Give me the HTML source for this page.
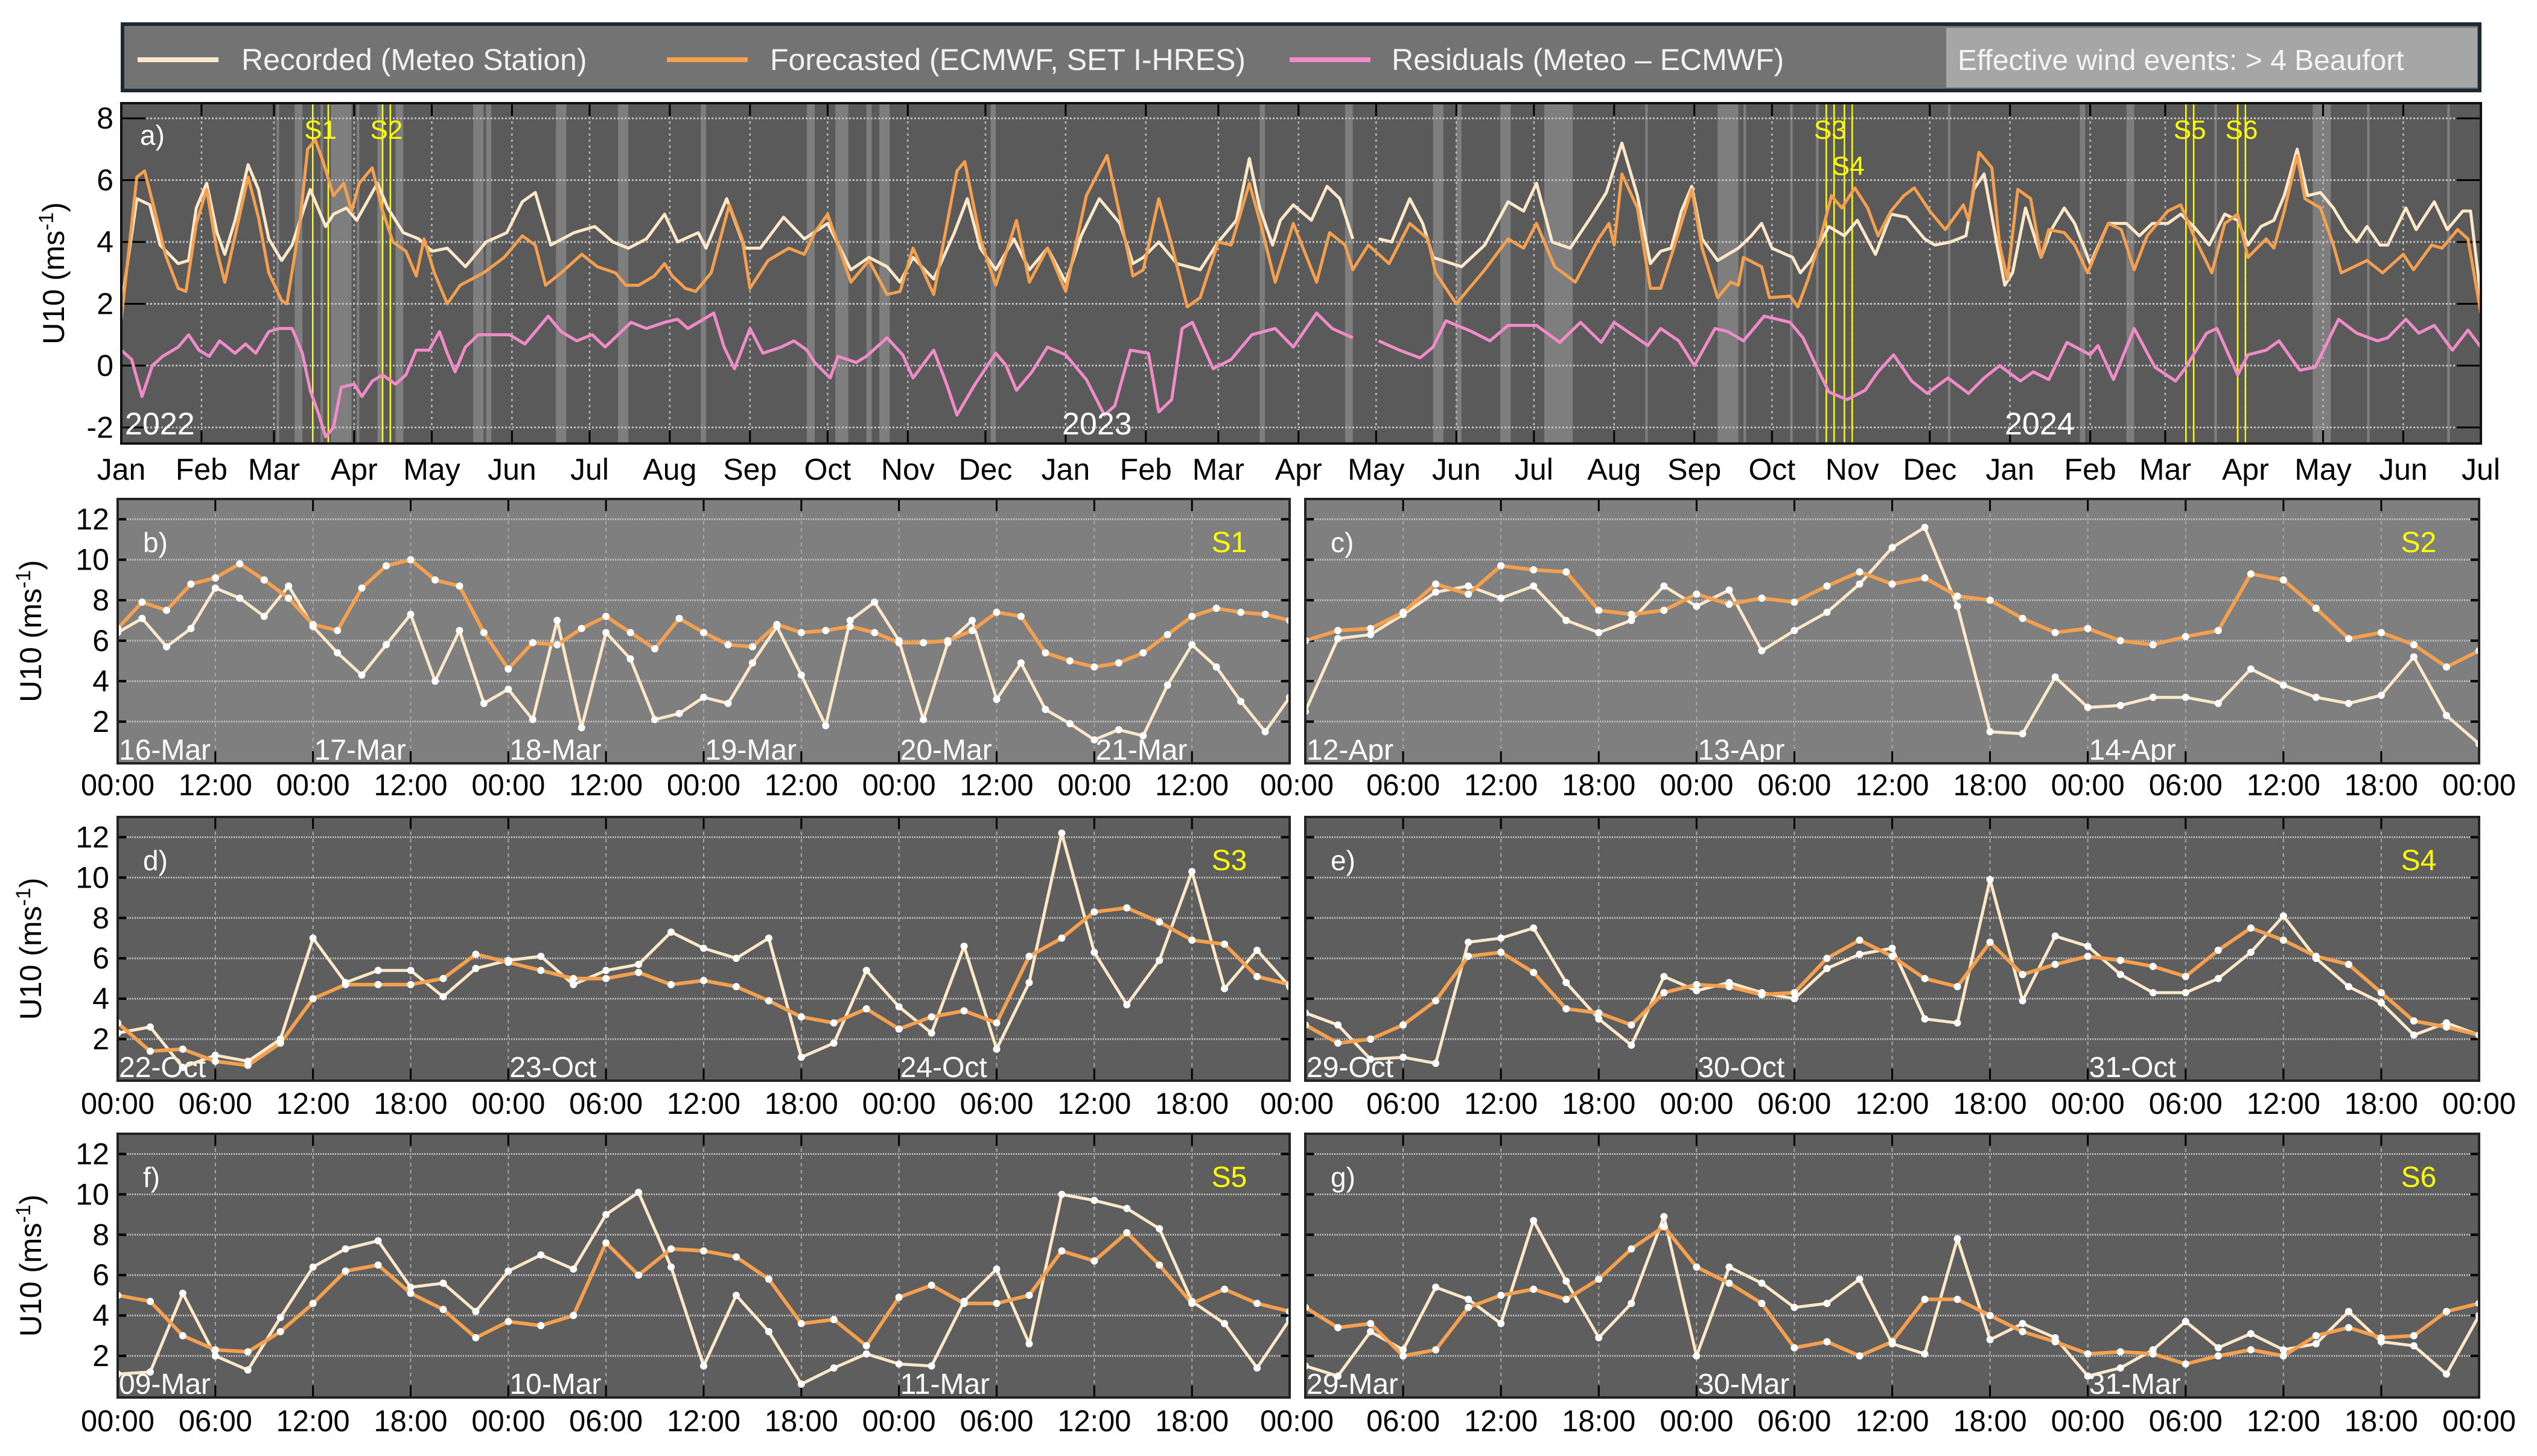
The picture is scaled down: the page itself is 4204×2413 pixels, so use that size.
<!DOCTYPE html>
<html><head><meta charset="utf-8"><title>U10 wind: recorded vs forecasted</title>
<style>
html,body{margin:0;padding:0;background:#fff;}
svg{display:block;font-family:"Liberation Sans Narrow","Liberation Sans",sans-serif;}
</style></head>
<body>
<svg id="chart" width="4204" height="2413" viewBox="0 0 4204 2413" xmlns="http://www.w3.org/2000/svg">
  <rect x="0" y="0" width="4204" height="2413" fill="#ffffff"/>
  <g>
    <rect x="203" y="40" width="3906" height="110" fill="#737373" stroke="#1c2833" stroke-width="6"/>
    <line x1="228" y1="99" x2="362" y2="99" stroke="#fde8c9" stroke-width="8"/>
    <text x="400" y="116" font-family="Liberation Sans, sans-serif" font-size="50" fill="#f2f2f2">Recorded (Meteo Station)</text>
    <line x1="1105" y1="99" x2="1239" y2="99" stroke="#f5a04f" stroke-width="8"/>
    <text x="1276" y="116" font-family="Liberation Sans, sans-serif" font-size="50" fill="#f2f2f2">Forecasted (ECMWF, SET I-HRES)</text>
    <line x1="2137" y1="99" x2="2271" y2="99" stroke="#f28cc8" stroke-width="8"/>
    <text x="2306" y="116" font-family="Liberation Sans, sans-serif" font-size="50" fill="#f2f2f2">Residuals (Meteo – ECMWF)</text>
    <rect x="3225" y="46" width="880" height="99" fill="#a6a6a6"/>
    <text x="3244" y="116" font-family="Liberation Sans, sans-serif" font-size="48" fill="#f4f4f4">Effective wind events: &gt; 4 Beaufort</text>
  </g>
</svg>
<script>
// ===== Panel a data (day index from 1 Jan 2022) =====
const aRecDays=[0,6,11,15,22,26,29,33,37,40,44,49,53,57,62,66,73,79,82,87,91,95,99,103,109,115,120,126,133,141,149,155,160,166,175,183,190,196,203,210,215,223,226,234,241,247,256,264,273,282,289,296,301,306,314,322,327,332,338,345,351,358,365,371,378,382,386,391,395,401,408,417,424,431,436,440,445,448,453,460,466,471,476,480,486,491,498,503,507,518,527,536,542,547,553,560,568,574,580,586,591,595,599,603,607,611,617,625,630,634,638,646,649,653,660,666,671,678,684,690,697,701,707,713,716,720,725,728,731,736,742,746,751,755,761,768,775,780,785,791,796,801,807,813,818,822,827,832,836,841,845,850,855,860,864,868,873,876,883,887,894,899,905,908,912];
const aRecVals=[1.9,5.4,5.2,3.9,3.3,3.4,5.1,5.9,4.3,3.6,4.7,6.5,5.7,4.1,3.4,3.9,5.7,4.5,4.9,5.1,4.7,5.3,5.9,5.1,4.3,4.1,3.7,3.8,3.2,4.0,4.3,5.3,5.6,3.9,4.3,4.5,4.0,3.8,4.1,4.9,4.0,4.3,3.8,5.4,3.8,3.8,4.8,4.1,4.6,3.1,3.5,3.2,2.7,3.5,2.8,4.3,5.4,3.8,3.1,4.1,3.1,3.8,2.7,4.2,5.4,5.0,4.6,3.3,3.5,4.0,3.3,3.1,4.0,4.7,6.7,5.1,3.9,4.7,5.2,4.7,5.8,5.4,4.1,null,4.1,4.0,5.4,4.6,3.5,3.2,3.9,5.3,5.0,5.9,4.0,3.8,4.8,5.6,7.2,5.5,3.3,3.7,3.8,5.0,5.8,4.1,3.4,3.8,4.2,4.6,3.8,3.5,3.0,3.4,4.5,4.2,4.7,3.6,4.9,4.8,4.1,3.9,4.0,4.2,5.7,6.2,3.9,2.6,3.0,5.1,3.5,4.4,5.1,4.6,3.3,4.6,4.6,4.2,4.6,4.6,4.9,4.5,3.9,4.9,4.7,3.9,4.5,4.7,5.5,7.0,5.5,5.6,5.1,4.4,4.0,4.5,3.9,3.9,5.1,4.4,5.3,4.4,5.0,5.0,2.2];
const aFcDays=[0,6,9,13,17,22,25,29,33,37,40,44,49,53,57,62,64,69,72,75,78,82,86,89,92,97,101,105,110,114,117,121,126,131,140,148,155,160,164,170,178,184,191,195,200,206,210,213,218,222,228,235,240,243,250,258,264,268,273,282,289,296,301,306,314,323,326,332,338,346,351,358,365,373,381,391,395,401,406,412,417,424,429,436,440,446,453,462,467,473,476,482,490,498,505,508,516,527,536,542,547,554,562,571,575,577,580,586,591,595,600,607,611,617,622,625,627,634,637,645,648,652,657,661,665,670,675,679,684,689,693,699,705,712,714,718,723,726,729,733,738,742,745,751,755,760,768,773,778,783,791,796,801,808,813,818,822,829,832,836,841,844,850,855,858,868,874,882,886,893,897,903,907,912];
const aFcVals=[1.5,6.1,6.3,5.0,3.6,2.5,2.4,4.6,5.7,3.7,2.7,4.2,6.1,4.8,3.0,2.1,2.0,4.6,7.0,7.3,6.6,5.5,5.9,5.0,5.9,6.4,5.0,4.0,3.7,2.9,4.1,3.0,2.0,2.6,3.0,3.5,4.2,3.9,2.6,3.0,3.6,3.2,3.0,2.6,2.6,2.9,3.3,2.9,2.5,2.4,3.0,5.2,4.1,2.5,3.4,3.8,3.6,4.3,4.9,2.7,3.4,2.3,2.4,3.8,2.3,6.3,6.6,4.1,2.6,4.7,2.7,3.8,2.4,5.5,6.8,2.9,3.1,5.4,3.9,1.9,2.2,4.0,3.9,5.9,4.7,2.7,4.6,2.7,4.3,3.9,3.1,3.9,3.3,4.6,4.1,3.0,2.0,3.1,4.1,3.8,4.6,3.2,2.7,4.1,4.6,3.9,6.2,5.1,2.5,2.5,3.8,5.7,3.8,2.2,2.7,2.6,3.5,3.2,2.2,2.25,1.9,2.8,4.2,5.5,5.1,5.75,5.1,4.2,5.0,5.5,5.75,5.0,4.4,5.2,4.7,6.9,6.4,3.9,2.8,5.7,5.4,3.5,4.4,4.3,3.9,3.0,4.6,4.4,3.1,4.2,5.0,5.2,4.2,3.0,4.6,4.9,3.5,4.1,3.8,5.0,6.8,5.4,5.1,3.9,3.0,3.4,3.0,3.6,3.1,3.9,3.8,4.4,4.1,1.7];
const aResDays=[0,4,8,12,16,22,26,30,34,38,44,48,52,57,61,66,70,73,76,79,82,85,90,93,97,101,106,110,114,119,123,126,129,133,138,145,150,156,160,165,170,176,182,187,192,197,203,210,215,219,225,229,233,237,243,248,255,260,265,268,274,277,284,288,296,302,306,314,319,323,330,338,342,346,352,358,365,373,380,384,390,397,401,406,410,414,422,429,437,446,453,462,468,476,480,486,494,502,507,512,522,529,536,547,556,564,572,577,590,595,602,608,616,621,627,635,645,650,655,660,667,674,679,685,692,698,706,714,720,726,734,739,745,752,761,764,770,778,786,794,798,806,810,818,822,829,834,842,848,857,864,872,876,883,888,894,901,907,912];
const aResVals=[0.5,0.2,-1.0,0.0,0.3,0.6,1.0,0.5,0.3,0.8,0.4,0.7,0.4,1.1,1.2,1.2,0.4,-0.8,-1.5,-2.3,-2.0,-0.7,-0.6,-1.0,-0.5,-0.3,-0.6,-0.3,0.5,0.5,1.1,0.4,-0.2,0.6,1.0,1.0,1.0,0.7,1.1,1.6,1.1,0.8,1.0,0.6,1.0,1.4,1.2,1.4,1.5,1.2,1.5,1.7,0.6,-0.1,1.2,0.4,0.6,0.8,0.5,0.1,-0.4,0.3,0.1,0.3,0.9,0.35,-0.4,0.5,-0.6,-1.6,-0.6,0.4,0.0,-0.8,-0.2,0.6,0.35,-0.45,-1.6,-1.3,0.5,0.4,-1.5,-1.1,1.2,1.4,-0.1,0.2,1.0,1.2,0.6,1.7,1.2,0.9,null,0.8,0.5,0.25,0.6,1.45,1.1,0.8,1.3,1.3,0.75,1.4,0.75,1.4,0.65,1.2,0.8,0.0,1.2,1.1,0.8,1.6,1.4,0.9,0.0,-0.85,-1.1,-0.8,-0.2,0.35,-0.5,-0.9,-0.4,-0.9,-0.4,0.0,-0.5,-0.2,-0.45,0.75,0.35,0.65,-0.45,1.2,-0.05,-0.5,-0.05,1.05,1.2,-0.3,0.35,0.5,0.8,-0.15,-0.05,1.5,1.05,0.8,0.9,1.5,1.05,1.3,0.5,1.15,0.6];
// effective wind event bands [start day, end day]
const windBandStart=[60,67,77,81,91,99,106,136,141,168,192,224,265,276,288,293,336,440,473,507,516,533,550,589,617,627,645,655,706,757,775,809,847,868,899];
const windBandEnd  =[61,70,78,89,92,101,109,140,143,172,196,226,268,281,290,297,338,442,476,511,518,537,561,590,625,628,646,656,707,759,778,810,854,869,900];
// highlighted storm windows
const stormNames=['S1','S2','S3','S4','S5','S6'];
const stormStart=[74,101,659,666,798,818];
const stormEnd=[80,104,662,669,801,821];
const aYTicks=[-2,0,2,4,6,8];

// ===== Sub-panel data =====
const bFc=[6.6,7.9,7.5,8.8,9.1,9.8,9.0,8.1,6.8,6.5,8.6,9.7,10.0,9.0,8.7,6.4,4.6,5.9,5.8,6.6,7.2,6.4,5.6,7.1,6.4,5.8,5.7,6.8,6.4,6.5,6.7,6.4,5.9,5.9,6.0,6.5,7.4,7.2,5.4,5.0,4.7,4.9,5.4,6.3,7.2,7.6,7.4,7.3,7.0];
const bRec=[6.4,7.1,5.7,6.6,8.6,8.1,7.2,8.7,6.7,5.4,4.3,5.8,7.3,4.0,6.5,2.9,3.6,2.1,7.0,1.7,6.4,5.1,2.1,2.4,3.2,2.9,4.9,6.7,4.3,1.8,7.0,7.9,6.0,2.1,5.9,7.0,3.1,4.9,2.6,1.9,1.1,1.6,1.3,3.8,5.8,4.7,3.0,1.5,3.2];
const cFc=[6.0,6.5,6.6,7.4,8.8,8.3,9.7,9.5,9.4,7.5,7.3,7.5,8.3,7.8,8.1,7.9,8.7,9.4,8.8,9.1,8.2,8.0,7.1,6.4,6.6,6.0,5.8,6.2,6.5,9.3,9.0,7.6,6.1,6.4,5.8,4.7,5.5];
const cRec=[2.5,6.1,6.3,7.3,8.4,8.7,8.1,8.7,7.0,6.4,7.0,8.7,7.7,8.5,5.5,6.5,7.4,8.8,10.6,11.6,7.7,1.5,1.4,4.2,2.7,2.8,3.2,3.2,2.9,4.6,3.8,3.2,2.9,3.3,5.2,2.3,0.9];
const dFc=[2.8,1.4,1.5,0.9,0.7,1.8,4.0,4.7,4.7,4.7,5.0,6.2,5.8,5.4,5.0,5.0,5.3,4.7,4.9,4.6,3.9,3.1,2.8,3.5,2.5,3.1,3.4,2.8,6.1,7.0,8.3,8.5,7.8,6.9,6.7,5.1,4.7];
const dRec=[2.3,2.6,0.6,1.2,0.9,2.0,7.0,4.8,5.4,5.4,4.1,5.5,5.9,6.1,4.7,5.4,5.7,7.3,6.5,6.0,7.0,1.1,1.8,5.4,3.6,2.3,6.6,1.5,4.8,12.2,6.3,3.7,5.9,10.3,4.5,6.4,4.6];
const eFc=[2.7,1.8,2.0,2.7,3.9,6.1,6.3,5.3,3.5,3.3,2.7,4.3,4.7,4.6,4.2,4.3,6.0,6.9,6.1,5.0,4.6,6.8,5.2,5.7,6.1,5.9,5.6,5.1,6.4,7.5,6.9,6.1,5.7,4.3,2.9,2.6,2.2];
const eRec=[3.3,2.7,1.0,1.1,0.8,6.8,7.0,7.5,4.8,3.0,1.7,5.1,4.4,4.8,4.3,4.0,5.5,6.2,6.5,3.0,2.8,9.9,3.9,7.1,6.6,5.2,4.3,4.3,5.0,6.3,8.1,6.0,4.6,3.8,2.2,2.8,2.2];
const fFc=[5.0,4.7,3.0,2.3,2.2,3.2,4.6,6.2,6.5,5.1,4.3,2.9,3.7,3.5,4.0,7.6,6.0,7.3,7.2,6.9,5.8,3.6,3.8,2.5,4.9,5.5,4.6,4.6,5.0,7.2,6.7,8.1,6.5,4.6,5.3,4.6,4.2];
const fRec=[1.1,1.2,5.1,2.0,1.3,3.9,6.4,7.3,7.7,5.4,5.6,4.2,6.2,7.0,6.3,9.0,10.1,6.4,1.5,5.0,3.2,0.6,1.4,2.1,1.6,1.5,4.7,6.3,2.6,10.0,9.7,9.3,8.3,4.7,3.6,1.4,3.8];
const gFc=[4.4,3.4,3.6,2.0,2.3,4.4,5.0,5.3,4.8,5.8,7.3,8.4,6.4,5.6,4.6,2.4,2.7,2.0,2.7,4.8,4.8,4.0,3.2,2.7,2.1,2.2,2.1,1.6,2.0,2.3,2.0,3.0,3.4,2.9,3.0,4.2,4.6];
const gRec=[1.5,1.0,3.2,2.3,5.4,4.8,3.6,8.7,5.7,2.9,4.6,8.9,2.0,6.4,5.6,4.4,4.6,5.8,2.6,2.1,7.8,2.8,3.6,2.9,1.0,1.4,2.3,3.7,2.4,3.1,2.3,2.6,4.2,2.7,2.5,1.1,4.0];
const subYTicks=[2,4,6,8,10,12];
const bDates=['16-Mar','17-Mar','18-Mar','19-Mar','20-Mar','21-Mar'];
const cDates=['12-Apr','13-Apr','14-Apr'];
const dDates=['22-Oct','23-Oct','24-Oct'];
const eDates=['29-Oct','30-Oct','31-Oct'];
const fDates=['09-Mar','10-Mar','11-Mar'];
const gDates=['29-Mar','30-Mar','31-Mar'];
const hourLabels12=['00:00','12:00'];
const hourLabels6=['00:00','06:00','12:00','18:00'];

// ===== drawing =====
const NS='http://www.w3.org/2000/svg';
const svg=document.getElementById('chart');
function mk(tag,attrs,parent){const e=document.createElementNS(NS,tag);for(const k in attrs)e.setAttribute(k,attrs[k]);(parent||svg).appendChild(e);return e;}
function pathFrom(xs,ys){let d='',pen=false;for(let i=0;i<xs.length;i++){if(ys[i]===null||ys[i]===undefined){pen=false;continue;}d+=(pen?'L':'M')+xs[i].toFixed(1)+' '+ys[i].toFixed(1);pen=true;}return d;}

const REC='#fde8c9',FC='#f5a04f',RES='#f28cc8';

// ---- Panel a ----
const A={x0:201,x1:4111,y0:171,y1:735,vmin:-2.52,vmax:8.49,dmax:912};
const ax=d=>A.x0+(A.x1-A.x0)*d/A.dmax;
const ay=v=>A.y1-(A.y1-A.y0)*(v-A.vmin)/(A.vmax-A.vmin);
const gA=mk('g',{});


const bgA=mk('rect',{x:A.x0,y:A.y0,width:A.x1-A.x0,height:A.y1-A.y0,fill:'#5a5a5a'},gA);


for(let i=0;i<windBandStart.length;i++){
  const r=mk('rect',{x:ax(windBandStart[i]),y:A.y0,width:Math.max(3,ax(windBandEnd[i])-ax(windBandStart[i])),height:A.y1-A.y0,fill:'#7e7e7e'},gA);
  
  
}
const mNames=['Jan','Feb','Mar','Apr','May','Jun','Jul','Aug','Sep','Oct','Nov','Dec'];
const base=Date.UTC(2022,0,1);
for(let m=0;m<=30;m++){
  const dt=Date.UTC(2022,m,1);const d=(dt-base)/86400000;const x=ax(d);
  const gl=mk('line',{x1:x,y1:A.y0,x2:x,y2:A.y1,stroke:'#b8b8b8','stroke-width':2.5,'stroke-dasharray':'4 6'},gA);
  
  
  const t1=mk('line',{x1:x,y1:A.y0,x2:x,y2:A.y0+22,stroke:'#000','stroke-width':3},gA);
  
  
  const t2=mk('line',{x1:x,y1:A.y1,x2:x,y2:A.y1-22,stroke:'#000','stroke-width':3},gA);
  
  
  const lab=mk('text',{x:x,y:795,'text-anchor':'middle','font-size':50,fill:'#000'},gA);
  lab.textContent=mNames[new Date(dt).getUTCMonth()];
  
  
}
aYTicks.forEach(v=>{
  const y=ay(v);
  const gl=mk('line',{x1:A.x0,y1:y,x2:A.x1,y2:y,stroke:'#c0c0c0','stroke-width':3,'stroke-dasharray':'3 3'},gA);
  
  
  const tl=mk('line',{x1:A.x0,y1:y,x2:A.x0+40,y2:y,stroke:'#000','stroke-width':3},gA);
  
  
  const tr=mk('line',{x1:A.x1,y1:y,x2:A.x1-40,y2:y,stroke:'#000','stroke-width':3},gA);
  
  
  const lab=mk('text',{x:188,y:y+17,'text-anchor':'end','font-size':50,fill:'#000'},gA);
  lab.textContent=String(v);
  
  
});
// storm lines
for(let i=0;i<stormNames.length;i++){
  [stormStart[i],stormEnd[i]].forEach(d=>{
    const l=mk('line',{x1:ax(d),y1:A.y0,x2:ax(d),y2:A.y1,stroke:'#ffff00','stroke-width':2.5},gA);
    
    
  });
  const lab=mk('text',{x:ax((stormStart[i]+stormEnd[i])/2),y:stormNames[i]==='S4'?290:230,'text-anchor':'middle','font-size':44,fill:'#ffff00'},gA);
  lab.textContent=stormNames[i];
  
  
}
const pRes=mk('path',{d:pathFrom(aResDays.map(ax),aResVals.map(v=>v===null?null:ay(v))),fill:'none',stroke:RES,'stroke-width':5,'stroke-linejoin':'round'},gA);


const pRec=mk('path',{d:pathFrom(aRecDays.map(ax),aRecVals.map(v=>v===null?null:ay(v))),fill:'none',stroke:REC,'stroke-width':5,'stroke-linejoin':'round'},gA);


const pFc=mk('path',{d:pathFrom(aFcDays.map(ax),aFcVals.map(ay)),fill:'none',stroke:FC,'stroke-width':5,'stroke-linejoin':'round'},gA);


[['2022',207],['2023',1760],['2024',3322]].forEach(([s,x])=>{
  const t=mk('text',{x:x,y:720,'font-size':52,fill:'#ffffff'},gA);
  t.textContent=s;
  
  
});
const la=mk('text',{x:232,y:240,'font-size':46,fill:'#ffffff'},gA);
la.textContent='a)';


const frA=mk('rect',{x:A.x0,y:A.y0,width:A.x1-A.x0,height:A.y1-A.y0,fill:'none',stroke:'#111','stroke-width':4},gA);


function yTitle(cx,cy,g){
  const t=mk('text',{x:0,y:0,'text-anchor':'middle','font-size':50,fill:'#000',transform:`translate(${cx},${cy}) rotate(-90)`,'font-family':'Liberation Sans, sans-serif'},g);
  
  
  const s1=mk('tspan',{},t);s1.textContent='U10 (ms';
  const s2=mk('tspan',{dy:-18,'font-size':34},t);s2.textContent='-1';
  const s3=mk('tspan',{dy:18},t);s3.textContent=')';
}
yTitle(106,453,gA);

// ---- Sub panels ----
const subs=[
 {id:'b',x0:195,x1:2137,y0:827,y1:1265,bg:'#7f7f7f',hours:144,step:3,fc:bFc,rec:bRec,dates:bDates,hl:hourLabels12,hstep:12,tag:'S1',ly:1318},
 {id:'c',x0:2163,x1:4108,y0:827,y1:1265,bg:'#7f7f7f',hours:72,step:2,fc:cFc,rec:cRec,dates:cDates,hl:hourLabels6,hstep:6,tag:'S2',ly:1318},
 {id:'d',x0:195,x1:2137,y0:1354,y1:1791,bg:'#5e5e5e',hours:72,step:2,fc:dFc,rec:dRec,dates:dDates,hl:hourLabels6,hstep:6,tag:'S3',ly:1846},
 {id:'e',x0:2163,x1:4108,y0:1354,y1:1791,bg:'#5e5e5e',hours:72,step:2,fc:eFc,rec:eRec,dates:eDates,hl:hourLabels6,hstep:6,tag:'S4',ly:1846},
 {id:'f',x0:195,x1:2137,y0:1879,y1:2316,bg:'#5e5e5e',hours:72,step:2,fc:fFc,rec:fRec,dates:fDates,hl:hourLabels6,hstep:6,tag:'S5',ly:2372},
 {id:'g',x0:2163,x1:4108,y0:1879,y1:2316,bg:'#5e5e5e',hours:72,step:2,fc:gFc,rec:gRec,dates:gDates,hl:hourLabels6,hstep:6,tag:'S6',ly:2372}
];
subs.forEach(P=>{
  const vmin=-0.06,vmax=13.0;
  const sx=h=>P.x0+(P.x1-P.x0)*h/P.hours;
  const sy=v=>P.y1-(P.y1-P.y0)*(v-vmin)/(vmax-vmin);
  const isLeft=P.x0<1000;
  const g=mk('g',{});
  
  
  const bg=mk('rect',{x:P.x0,y:P.y0,width:P.x1-P.x0,height:P.y1-P.y0,fill:P.bg},g);
  
  
  for(let h=0;h<=P.hours;h+=P.hstep){
    const x=sx(h);
    if(h>0&&h<P.hours){
      const gl=mk('line',{x1:x,y1:P.y0,x2:x,y2:P.y1,stroke:'#a8a8a8','stroke-width':2,'stroke-dasharray':'6 6'},g);
      
      
    }
    const t1=mk('line',{x1:x,y1:P.y0,x2:x,y2:P.y0+20,stroke:'#000','stroke-width':3},g);
    
    
    const t2=mk('line',{x1:x,y1:P.y1,x2:x,y2:P.y1-20,stroke:'#000','stroke-width':3},g);
    
    
    if(!isLeft&&h===0)continue;
    const lab=mk('text',{x:isLeft&&h===P.hours?x+12:x,y:P.ly,'text-anchor':'middle','font-size':50,fill:'#000',textLength:122,lengthAdjust:'spacingAndGlyphs'},g);
    lab.textContent=P.hl[(h/P.hstep)%P.hl.length];
    
    
  }
  subYTicks.forEach(v=>{
    const y=sy(v);
    const gl=mk('line',{x1:P.x0,y1:y,x2:P.x1,y2:y,stroke:'#c4c4c4','stroke-width':3,'stroke-dasharray':'2 2'},g);
    
    
    const tl=mk('line',{x1:P.x0,y1:y,x2:P.x0+14,y2:y,stroke:'#000','stroke-width':4},g);
    
    
    const tr=mk('line',{x1:P.x1,y1:y,x2:P.x1-14,y2:y,stroke:'#000','stroke-width':4},g);
    
    
    if(isLeft){
      const lab=mk('text',{x:P.x0-14,y:y+17,'text-anchor':'end','font-size':50,fill:'#000'},g);
      lab.textContent=String(v);
      
      
    }
  });
  P.dates.forEach((s,i)=>{
    const t=mk('text',{x:sx(i*24)+2,y:P.y1-6,'font-size':48,fill:'#ffffff'},g);
    t.textContent=s;
    
    
  });
  const xsF=P.fc.map((v,i)=>sx(i*P.step));
  const xsR=P.rec.map((v,i)=>sx(i*P.step));
  const lr=mk('path',{d:pathFrom(xsR,P.rec.map(sy)),fill:'none',stroke:REC,'stroke-width':5,'stroke-linejoin':'round'},g);
  
  
  const lf=mk('path',{d:pathFrom(xsF,P.fc.map(sy)),fill:'none',stroke:FC,'stroke-width':6,'stroke-linejoin':'round'},g);
  
  
  P.rec.forEach((v,i)=>{
    const c=mk('circle',{cx:xsR[i],cy:sy(v),r:6,fill:'#ffffff'},g);
    
    
  });
  P.fc.forEach((v,i)=>{
    const c=mk('circle',{cx:xsF[i],cy:sy(v),r:6,fill:'#ffffff'},g);
    
    
  });
  const pl=mk('text',{x:P.x0+42,y:P.y0+88,'font-size':46,fill:'#ffffff'},g);
  pl.textContent=P.id+')';
  
  
  const st=mk('text',{x:P.x1-100,y:P.y0+88,'text-anchor':'middle','font-size':48,fill:'#ffff00'},g);
  st.textContent=P.tag;
  
  
  const fr=mk('rect',{x:P.x0,y:P.y0,width:P.x1-P.x0,height:P.y1-P.y0,fill:'none',stroke:'#222','stroke-width':4},g);
  
  
  if(isLeft){yTitle(68,(P.y0+P.y1)/2,g);}
});
</script>
</body></html>
